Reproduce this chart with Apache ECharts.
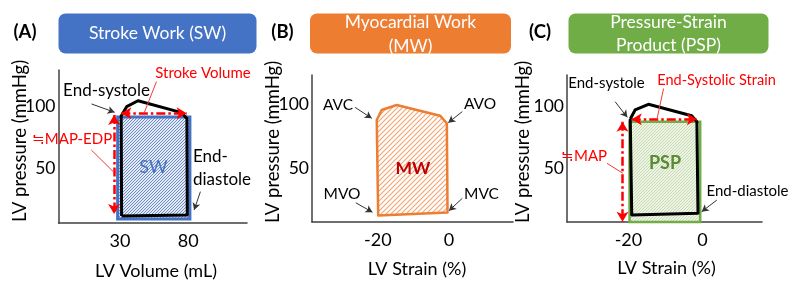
<!DOCTYPE html>
<html><head><meta charset="utf-8">
<script src="https://cdn.jsdelivr.net/npm/echarts@6/dist/echarts.min.js"></script>
<style>html,body{margin:0;padding:0;background:#fff}#c{width:800px;height:292px}</style>
</head><body><div id="c"></div>
<script>
// ---------- DATA ----------
// Panel A: pressure-volume loop (LV Volume mL, LV pressure mmHg)
var volA  = [31.2, 30.9, 34.9, 43.2, 75.1, 79.0, 79.3, 31.2];
var presA = [11.6, 92.0, 99.5, 104.3, 94.7, 90.0, 12.4, 11.6];
var swRect = [28.3, 9.2, 81.2, 91.2];           // x0, y0, x1, y1
var strokeVolumeArrow = [[31, 94.2], [78.8, 94.2]];
var mapEdpArrow = [[25.7, 92.8], [25.7, 13.2]];
var annotArrowsA = [[[9.2, 101.7], [26.1, 95.0]], [[88.9, 31.2], [84.3, 16.5]]];
var leadersA = [[[56.7, 119.6], [47.6, 94.2]], [[9.0, 64.7], [25.2, 47.2]]];
// Panel B: pressure-strain loop
var strainB = [-20.3, -18.9, -14.7, -2.5, -0.6, -0.4, -19.9, -20.3];
var presB   = [88.0, 95.9, 99.8, 91.4, 85.4, 15.0, 12.6, 88.0];
var annotArrowsB = [
  [[-26.4, 98.0], [-21.7, 89.3]],
  [[3.75, 94.6], [-0.2, 85.9]],
  [[-26.2, 22.7], [-21.5, 15.2]],
  [[3.75, 26.2], [0.0, 16.4]]
];
// Panel C: pressure-strain loop with PSP rectangle
var strainC = [-19.5, -18.2, -14.6, -2.9, -1.5, -1.2, -19.1, -19.5];
var presC   = [89.5, 96.8, 101.4, 92.2, 87.4, 13.5, 12.1, 89.5];
var pspRect = [-19.7, 6.5, -0.6, 87.3];
var esStrainArrow = [[-19.1, 89.3], [-1.5, 89.3]];
var mapArrow = [[-21.6, 87.4], [-21.6, 6.8]];
var annotArrowsC = [[[-23.6, 103.5], [-20.3, 90.9]], [[3.9, 24.2], [-0.2, 14.8]]];
var leadersC = [[[-10.5, 114.1], [-12.3, 89.1]], [[-25.8, 53.8], [-21.5, 45.8]]];
// tick labels
var ticksAx = [30, 80], ticksAy = [50, 100];
var ticksBx = [-20, 0], ticksBy = [50, 100];
var ticksCx = [-20, 0], ticksCy = [50, 100];

// ---------- STYLE HELPERS ----------
var FONT = 'Lato, "Liberation Sans", sans-serif';
function hatch(bg, fg, size, lw) {
  var c = document.createElement('canvas'); c.width = size; c.height = size;
  var g = c.getContext('2d');
  g.fillStyle = bg; g.fillRect(0, 0, size, size);
  g.strokeStyle = fg; g.lineWidth = lw;
  g.beginPath();
  g.moveTo(-1, 1); g.lineTo(1, -1);
  g.moveTo(0, size); g.lineTo(size, 0);
  g.moveTo(size - 1, size + 1); g.lineTo(size + 1, size - 1);
  g.stroke();
  return {image: c, repeat: 'repeat'};
}
var blueHatch = hatch('#e4eaf5', '#6d8cc6', 3, 1);
var orangeHatch = hatch('#ffffff', '#f2a675', 5, 1.2);
var greenHatch = hatch('#edf4e6', '#c6dbb2', 3, 1);

function xAx(g, min, max, ticks) {
  return {type: 'value', gridIndex: g, min: min, max: max,
    axisLine: {show: true, onZero: false, lineStyle: {color: '#404040', width: 1.5}},
    axisTick: {show: false}, splitLine: {show: false},
    axisLabel: {customValues: ticks, fontSize: 18, color: '#000', margin: 9, fontFamily: FONT}};
}
function yAx(g, min, max, ticks) {
  return {type: 'value', gridIndex: g, min: min, max: max,
    axisLine: {show: true, onZero: false, lineStyle: {color: '#404040', width: 1.5}},
    axisTick: {show: false}, splitLine: {show: false},
    axisLabel: {customValues: ticks, fontSize: 17.5, color: '#000', margin: 3, fontFamily: FONT}};
}
function pairs(xs, ys) { return xs.map(function (x, i) { return [x, ys[i]]; }); }
function loopSeries(g, xs, ys) {
  return {type: 'line', xAxisIndex: g, yAxisIndex: g, data: pairs(xs, ys), symbol: 'none',
    lineStyle: {color: '#000', width: 3, join: 'round'}, z: 4, silent: true, animation: false};
}
function rectSeries(g, r, fill, stroke, lw) {
  return {type: 'custom', xAxisIndex: g, yAxisIndex: g, data: [r], clip: false, z: 2, silent: true, animation: false,
    renderItem: function (params, api) {
      var p0 = api.coord([api.value(0), api.value(3)]);
      var p1 = api.coord([api.value(2), api.value(1)]);
      return {type: 'rect', shape: {x: p0[0], y: p0[1], width: p1[0] - p0[0], height: p1[1] - p0[1]},
        style: {fill: fill, stroke: stroke, lineWidth: lw}};
    }};
}
function polySeries(g, xs, ys, fill, stroke, lw) {
  return {type: 'custom', xAxisIndex: g, yAxisIndex: g, data: pairs(xs, ys), clip: false, z: 3, silent: true, animation: false,
    renderItem: function (params, api) {
      if (params.dataIndex !== 0) return;
      var pts = xs.map(function (x, i) { return api.coord([x, ys[i]]); });
      return {type: 'polygon', shape: {points: pts}, style: {fill: fill, stroke: stroke, lineWidth: lw, lineJoin: 'round'}};
    }};
}
function seg(p) { return [{coord: p[0]}, {coord: p[1]}]; }
function markSeries(g, lines, lineStyle, symbol, symbolSize, z) {
  return {type: 'line', xAxisIndex: g, yAxisIndex: g, data: [], silent: true, animation: false, z: z,
    markLine: {silent: true, animation: false, symbol: symbol, symbolSize: symbolSize, precision: 4,
      label: {show: false}, lineStyle: lineStyle, emphasis: {disabled: true},
      data: lines.map(seg)}};
}
var redDash = {color: '#ff0000', width: 2.5, type: [9, 3, 2.5, 3], opacity: 1};
var blackThin = {color: '#333', width: 1, type: 'solid', opacity: 1};
var redThin = {color: '#f03c3c', width: 1, type: 'solid', opacity: 1};

function txt(t, x, y, size, color, extra) {
  var s = {text: t, fill: color || '#000', fontSize: size, fontFamily: FONT, align: 'center', verticalAlign: 'middle'};
  var e = {type: 'text', x: x, y: y, style: s, silent: true, z: 100};
  if (extra) { for (var k in extra) { if (k === 'style') { for (var q in extra.style) s[q] = extra.style[q]; } else e[k] = extra[k]; } }
  return e;
}
function box(x, y, w, h, color) {
  return {type: 'rect', shape: {x: x, y: y, width: w, height: h, r: 7}, style: {fill: color}, silent: true, z: 90};
}
var rot = {rotation: Math.PI / 2};
var bold = {style: {fontWeight: 'bold'}};

var option = {
  animation: false,
  backgroundColor: '#fff',
  grid: [
    {left: 58.5, top: 70, width: 188.5, height: 153},
    {left: 312, top: 75, width: 201, height: 147},
    {left: 567, top: 75, width: 195, height: 147}
  ],
  xAxis: [xAx(0, -15, 123, ticksAx), xAx(1, -38.5, 18, ticksBx), xAx(2, -36.6, 16.1, ticksCx)],
  yAxis: [yAx(0, 6, 129, ticksAy), yAx(1, 7.5, 123.5, ticksBy), yAx(2, 6.5, 125, ticksCy)],
  series: [
    rectSeries(0, swRect, blueHatch, '#4472c4', 3),
    loopSeries(0, volA, presA),
    markSeries(0, [strokeVolumeArrow, mapEdpArrow], redDash, ['arrow', 'arrow'], [9, 10], 6),
    markSeries(0, annotArrowsA, blackThin, ['none', 'arrow'], [6, 7], 6),
    markSeries(0, leadersA, redThin, ['none', 'none'], 1, 6),

    polySeries(1, strainB, presB, orangeHatch, '#ed7d31', 2.5),
    markSeries(1, annotArrowsB, blackThin, ['none', 'arrow'], [6, 7], 6),

    rectSeries(2, pspRect, greenHatch, '#70ad47', 2.5),
    loopSeries(2, strainC, presC),
    markSeries(2, [esStrainArrow, mapArrow], redDash, ['arrow', 'arrow'], [9, 10], 6),
    markSeries(2, annotArrowsC, blackThin, ['none', 'arrow'], [6, 7], 6),
    markSeries(2, leadersC, redThin, ['none', 'none'], 1, 6)
  ],
  graphic: [
    box(58.5, 13.5, 198, 40, '#4472c4'),
    box(310, 13.5, 201, 40, '#ed7d31'),
    box(568.5, 13.5, 200, 40, '#70ad47'),
    txt('Stroke Work (SW)', 157.5, 33.5, 17.5, '#fff'),
    txt('Myocardial Work', 410.5, 22.5, 17.5, '#fff'),
    txt('(MW)', 410.5, 46.5, 17.5, '#fff'),
    txt('Pressure-Strain', 668.5, 22.5, 17.5, '#fff'),
    txt('Product (PSP)', 668.5, 45.5, 17.5, '#fff'),
    txt('(A)', 25, 32, 18.5, '#000', bold),
    txt('(B)', 282.5, 32, 18.5, '#000', bold),
    txt('(C)', 540, 32, 18.5, '#000', bold),
    // axis titles
    txt('LV pressure (mmHg)', 20, 141, 18.5, '#000', rot),
    txt('LV pressure (mmHg)', 273, 142, 18.5, '#000', rot),
    txt('LV pressure (mmHg)', 523, 142, 18.5, '#000', rot),
    txt('LV Volume (mL)', 156, 271, 18),
    txt('LV Strain (%)', 417, 269, 18),
    txt('LV Strain (%)', 666.5, 268.5, 18),
    // panel A annotations
    txt('End-systole', 106.5, 91, 17),
    txt('Stroke Volume', 203, 73, 15, '#ff0000'),
    txt('\u2252MAP-EDP', 72, 139, 15, '#ff0000'),
    txt('SW', 153.5, 167, 18, '#4472c4'),
    txt('End-', 193, 157, 17, '#000', {style: {align: 'left'}}),
    txt('diastole', 193, 180, 17, '#000', {style: {align: 'left'}}),
    // panel B annotations
    txt('AVC', 338, 105, 15.5),
    txt('AVO', 480, 104, 15.5),
    txt('MVO', 342, 193.5, 15.5),
    txt('MVC', 481.5, 194, 15.5),
    txt('MW', 413, 168.5, 17.5, '#c00000', bold),
    // panel C annotations
    txt('End-systole', 606.5, 83, 15),
    txt('End-Systolic Strain', 716.5, 80, 14.5, '#ff0000'),
    txt('\u2252MAP', 584, 156.5, 15, '#ff0000'),
    txt('PSP', 665, 163.5, 18, '#5b8a34', bold),
    txt('End-diastole', 747.5, 191, 15)
  ]
};
var chart = echarts.init(document.getElementById('c'), null, {renderer: 'canvas'});
chart.setOption(option);
</script>
</body></html>
